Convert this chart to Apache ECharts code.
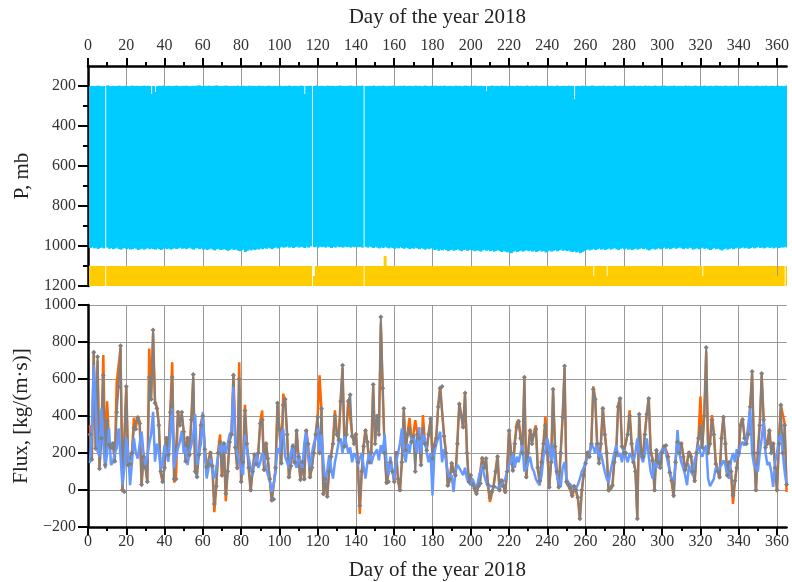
<!DOCTYPE html>
<html>
<head>
<meta charset="utf-8">
<script src="https://cdn.jsdelivr.net/npm/echarts@6/dist/echarts.min.js"></script>
<style>
  html, body { margin: 0; padding: 0; background: #fff; }
  #chart { width: 792px; height: 582px; }
</style>
</head>
<body>
<div id="chart"></div>
<script>
// day-of-year tick labels
var dayTicks = [0, 20, 40, 60, 80, 100, 120, 140, 160, 180, 200, 220, 240, 260, 280, 300, 320, 340, 360];
var pressureTicks = [200, 400, 600, 800, 1000, 1200];
var pressureMinorTicks = [300, 500, 700, 900, 1100];
var fluxTicks = [-200, 0, 200, 400, 600, 800, 1000];

// top panel: sounding pressure range per day (null = no data)
var soundTop = [
  200,199,201,200,198,200,202,200,null,197,200,201,199,200,200,198,201,200,199,200,
  201,200,198,200,199,200,201,200,198,200,199,200,240,200,230,201,199,200,198,200,
  200,199,201,200,200,198,200,201,199,200,198,200,201,200,199,200,198,197,200,201,
  199,200,198,201,200,199,197,200,201,200,199,198,200,201,200,199,200,198,201,200,
  199,200,201,198,200,199,200,201,198,200,199,201,200,198,200,201,199,200,200,198,
  201,200,199,200,198,201,200,199,200,201,198,200,240,200,200,199,null,200,198,201,
  200,199,200,201,198,200,199,200,201,200,198,199,200,201,200,199,198,200,201,200,
  199,200,198,null,200,201,199,200,198,200,201,199,200,198,200,201,199,200,198,200,
  201,200,199,200,198,201,200,199,200,201,198,200,199,201,200,198,200,201,199,200,
  198,200,201,199,200,198,201,200,199,200,201,198,200,199,201,200,198,200,201,199,
  200,198,201,200,199,201,200,225,200,200,198,201,199,200,201,198,200,199,201,200,
  199,200,201,198,200,199,201,200,198,200,201,199,200,198,201,200,199,200,201,198,
  200,199,201,200,198,201,200,199,200,201,198,200,199,265,200,200,201,198,200,199,
  201,200,198,199,201,200,199,200,198,201,200,199,201,200,198,200,201,199,200,198,
  200,201,199,200,198,201,200,199,200,201,198,200,199,201,200,198,200,201,199,200,
  198,200,201,199,200,198,201,200,199,200,201,198,200,199,201,200,198,200,201,199,
  200,198,201,200,199,201,200,198,200,199,201,200,198,200,201,199,200,198,201,200,
  199,200,201,198,200,199,201,200,198,200,201,199,200,198,201,200,199,200,201,198,
  200,199,201,200,198
];
var soundBottom = [
  1010,1005,1012,1008,1015,1010,1006,1012,null,1008,1014,1010,1016,1012,1008,1015,1018,1012,1010,1016,
  1012,1018,1015,1010,1014,1020,1016,1012,1018,1014,1010,1016,1012,1015,1018,1012,1016,1020,1014,1010,
  1016,1012,1018,1014,1010,1015,1012,1008,1014,1010,1016,1012,1008,1014,1018,1012,1010,1016,1012,1018,
  1014,1020,1016,1012,1018,1022,1016,1014,1020,1018,1015,1020,1024,1018,1014,1020,1016,1022,1026,1020,
  1018,1030,1024,1018,1022,1016,1020,1014,1018,1012,1016,1010,1014,1008,1012,1016,1010,1006,1012,1008,
  1004,1008,1006,1002,1008,1004,1010,1006,1002,1008,1004,1006,1010,1004,1008,1002,null,1006,1004,1008,
  1002,1006,1004,1008,1002,1006,1010,1004,1008,1002,1006,1004,1008,1002,1006,1004,1008,1003,1006,1002,
  1006,1004,1008,null,1004,1008,1002,1006,1010,1004,1008,1012,1006,1010,1004,1008,1012,1006,1010,1014,
  1008,1012,1006,1010,1014,1008,1012,1016,1010,1014,1008,1012,1016,1010,1014,1018,1012,1016,1010,1014,
  1020,1016,1024,1018,1022,1016,1020,1026,1020,1018,1024,1020,1016,1022,1026,1020,1018,1024,1020,1016,
  1022,1026,1020,1024,1028,1022,1018,1024,1020,1026,1022,1028,1024,1020,1026,1030,1024,1028,1032,1026,
  1036,1028,1024,1030,1026,1022,1028,1024,1020,1026,1022,1028,1024,1030,1026,1022,1028,1024,1032,1026,
  1022,1028,1024,1020,1026,1022,1018,1024,1020,1026,1022,1028,1030,1026,1032,1028,1036,1030,1026,1020,
  1016,1022,1018,1014,1020,1016,1012,1018,1014,1020,1016,1012,1018,1014,1010,1016,1020,1014,1010,1016,
  1012,1018,1014,1020,1016,1012,1018,1014,1010,1016,1012,1018,1022,1016,1012,1018,1014,1010,1016,1012,
  1008,1014,1010,1016,1012,1008,1014,1010,1006,1012,1016,1010,1014,1008,1012,1018,1014,1010,1016,1012,
  1008,1014,1010,1016,1020,1014,1010,1016,1012,1018,1022,1016,1012,1018,1014,1010,1016,1012,1008,1014,
  1010,1006,1012,1008,1014,1010,1006,1012,1008,1004,1010,1006,1012,1008,1004,1010,1006,1012,1008,1004,
  1010,1006,1008,1004,1008
];
// top panel: yellow band upper edge (lower edge is 1200)
var bandTop = [
  1100,1100,1100,1100,1100,1100,1100,1100,null,1100,1100,1100,1100,1100,1100,1100,1100,1100,1100,1100,
  1100,1100,1100,1100,1100,1100,1100,1100,1100,1100,1100,1100,1100,1100,1100,1100,1100,1100,1100,1100,
  1100,1100,1100,1100,1100,1100,1100,1100,1100,1100,1100,1100,1100,1100,1100,1100,1100,1100,1100,1100,
  1100,1100,1100,1100,1100,1100,1100,1100,1100,1100,1100,1100,1100,1100,1100,1100,1100,1100,1100,1100,
  1100,1100,1100,1100,1100,1100,1100,1100,1100,1100,1100,1100,1100,1100,1100,1100,1100,1100,1100,1100,
  1100,1100,1100,1100,1100,1100,1100,1100,1100,1100,1100,1100,1100,1100,1100,1100,null,1150,1100,1100,
  1100,1100,1100,1100,1100,1100,1100,1100,1100,1100,1100,1100,1100,1100,1100,1100,1100,1100,1100,1100,
  1100,1100,1100,null,1100,1100,1100,1100,1100,1100,1100,1100,1100,1100,1050,1100,1100,1100,1100,1100,
  1100,1100,1100,1100,1100,1100,1100,1100,1100,1100,1100,1100,1100,1100,1100,1100,1100,1100,1100,1100,
  1100,1100,1100,1100,1100,1100,1100,1100,1100,1100,1100,1100,1100,1100,1100,1100,1100,1100,1100,1100,
  1100,1100,1100,1100,1100,1100,1100,1100,1100,1100,1100,1100,1100,1100,1100,1100,1100,1100,1100,1100,
  1100,1100,1100,1100,1100,1100,1100,1100,1100,1100,1100,1100,1100,1100,1100,1100,1100,1100,1100,1100,
  1100,1100,1100,1100,1100,1100,1100,1100,1100,1100,1100,1100,1100,1100,1100,1100,1100,1100,1100,1100,
  1100,1100,1100,1150,1100,1100,1100,1100,1100,1100,1150,1100,1100,1100,1100,1100,1100,1100,1100,1100,
  1100,1100,1100,1100,1100,1100,1100,1100,1100,1100,1100,1100,1100,1100,1100,1100,1100,1100,1100,1100,
  1100,1100,1100,1100,1100,1100,1100,1100,1100,1100,1100,1100,1100,1100,1100,1100,1100,1100,1100,1100,
  1150,1100,1100,1100,1100,1100,1100,1100,1100,1100,1100,1100,1100,1100,1100,1100,1100,1100,1100,1100,
  1100,1100,1100,1100,1100,1100,1100,1100,1100,1100,1100,1100,1100,1100,1100,1100,1100,1100,1100,1150,
  1100,1100,1100,null,1100
];
var bandBase = 1200;

// bottom panel: daily flux, kg/(m·s)
var fluxOrange = [
  350,160,740,230,700,120,300,730,130,480, 250,220,260,150,580,590,770,-10,-20,560,
  140,130,210,390,340,400,370,20,190,130, 40,765,500,850,480,450,360,90,40,130,
  290,180,430,690,40,70,430,360,410,320, 160,290,180,390,610,90,80,200,360,410,
  230,120,130,210,120,-120,10,210,300,70, 240,-60,110,270,310,630,240,110,690,40,
  160,460,260,110,-10,110,200,130,210,370, 430,100,260,160,50,-60,-55,110,460,340,
  150,520,480,310,60,140,240,140,330,170, 50,160,50,330,240,60,130,210,310,400,
  620,420,-30,50,-40,110,190,260,430,310, 280,490,660,240,310,490,500,300,260,310,
  140,-130,90,240,330,250,160,210,560,260, 390,310,900,540,210,30,40,160,110,40,
  210,50,-10,160,430,220,310,390,270,300, 377,310,290,140,405,260,220,310,380,180,
  250,290,460,560,570,300,210,20,50,150, 110,70,260,470,410,330,520,210,40,70,
  40,0,-25,30,30,180,130,160,20,-65, -20,30,110,190,-10,60,30,-20,110,330,
  210,100,260,360,380,290,210,600,60,210, 330,260,310,350,110,40,160,260,395,210,
  10,160,540,240,90,10,210,400,660,40, 20,0,-40,10,-10,-50,-160,-10,90,150,
  210,190,260,560,500,260,150,260,450,310, 210,-10,0,20,160,210,460,500,240,210,
  210,310,430,260,160,110,-150,400,210,190, 310,420,500,210,170,-10,220,160,130,210,
  240,250,190,90,40,-40,160,270,210,260, 190,100,150,210,190,110,40,210,290,505,
  240,410,750,210,260,405,310,150,110,60, 290,400,260,70,140,90,-75,40,130,210,
  360,390,290,260,310,460,630,210,-10,210, 360,620,390,240,260,330,210,260,130,-10,
  260,460,460,360,-10
];
var fluxGray = [
  300,165,745,225,720,115,280,620,135,375, 245,230,250,155,420,560,780,0,-10,560,
  135,140,200,335,330,390,360,30,180,120, 45,610,490,865,470,440,350,100,45,120,
  280,190,420,610,60,60,420,350,420,315, 155,280,190,380,625,100,70,190,350,400,
  220,125,140,200,130,-75,20,200,260,80, 250,-20,100,260,300,620,230,120,600,45,
  150,430,250,120,0,100,190,140,200,360, 380,110,250,170,60,-55,-50,120,470,330,
  145,460,490,300,70,130,235,150,320,180, 55,150,60,320,250,70,120,200,300,395,
  200,440,-20,60,-35,100,180,250,400,300, 270,480,675,235,300,480,515,290,250,300,
  150,-85,100,235,320,260,150,200,570,250, 400,300,935,550,200,40,45,150,100,45,
  200,60,0,150,440,215,300,330,260,290, 100,300,280,135,330,250,215,300,385,170,
  240,280,450,550,560,290,200,25,60,145, 100,80,250,465,400,340,525,200,45,80,
  30,10,-20,20,35,170,120,170,30,-40, -10,20,100,180,0,50,20,-10,100,320,
  200,105,250,340,370,280,200,610,70,200, 320,250,300,330,120,50,150,250,350,200,
  15,150,545,235,100,15,200,395,670,45, 30,10,-30,20,0,-40,-155,0,80,145,
  200,180,250,545,490,250,145,250,440,300, 200,0,10,25,150,200,450,495,235,200,
  200,300,400,250,150,100,-155,410,200,180, 300,410,495,200,160,0,215,150,120,200,
  235,240,180,95,50,-30,150,260,200,250, 180,110,140,200,180,100,50,200,280,340,
  230,400,770,200,250,380,300,140,100,70, 280,395,250,80,150,100,-30,50,120,200,
  350,380,280,250,300,450,640,200,0,200, 350,630,380,230,250,320,200,250,120,0,
  250,460,200,350,30
];
var fluxBlue = [
  145,330,675,450,210,180,440,250,117,200, 333,135,150,200,225,333,180,26,117,280,
  200,26,150,280,200,170,250,315,200,135, 180,250,300,423,153,250,207,108,150,243,
  200,153,300,440,117,180,225,260,320,200, 230,135,200,243,300,410,135,200,250,423,
  200,62,120,170,100,62,120,180,243,200, 261,200,250,300,320,558,243,200,153,120,
  80,300,225,170,120,80,150,189,120,150, 200,180,120,80,50,-10,30,100,225,200,
  300,330,180,150,120,200,250,150,120,200, 150,120,250,320,180,120,200,250,280,333,
  200,300,150,44,100,189,120,62,150,200, 261,279,200,290,250,200,230,150,200,180,
  130,170,200,130,62,150,200,140,180,200, 220,160,243,200,300,150,80,180,100,60,
  150,200,250,333,200,150,250,200,280,300, 250,200,340,200,300,280,200,150,200,-30,
  200,250,280,315,150,220,160,100,62,80, -10,100,135,120,100,80,120,60,40,26,
  60,30,8,60,100,135,80,44,20,10, 20,30,15,20,8,30,40,60,100,135,
  150,200,120,180,150,200,243,100,120,150, 180,120,100,60,40,26,80,180,220,279,
  225,150,252,150,80,40,17,120,150,62, 40,30,20,15,8,30,60,100,120,150,
  150,200,250,230,200,261,180,200,150,100, 62,40,100,150,200,243,180,200,150,220,
  180,150,200,180,150,200,279,200,180,150, 200,279,180,100,62,150,120,150,200,220,
  243,200,150,100,60,44,150,324,200,150, 120,80,26,135,100,80,160,200,243,200,
  180,220,240,62,20,30,60,120,100,120, 135,160,135,80,62,160,200,150,220,180,
  240,260,240,279,350,441,200,135,120,100, 200,280,369,200,135,150,100,17,150,200,
  279,300,200,100,26
];

var FONT = '"Liberation Serif", "Times New Roman", serif';

function dayPairs(values) {
  return values.map(function (v, i) { return [i + 1, v]; });
}

function rangeTriples(tops, bottoms) {
  var out = [];
  tops.forEach(function (t, i) {
    var b = typeof bottoms === 'number' ? bottoms : bottoms[i];
    if (t !== null && b !== null) out.push([i + 1, t, b]);
  });
  return out;
}

function dayBar(fill) {
  return function (params, api) {
    var p0 = api.coord([api.value(0) - 0.5, api.value(1)]);
    var p1 = api.coord([api.value(0) + 0.5, api.value(2)]);
    return {
      type: 'rect',
      shape: { x: p0[0], y: p0[1], width: p1[0] - p0[0] + 1, height: p1[1] - p0[1] },
      style: { fill: fill }
    };
  };
}

function plainNumber(v) {
  return String(v).replace('-', '\u2212');
}

function dayAxis(gridIndex, position, margin, nameGap) {
  return {
    gridIndex: gridIndex,
    type: 'value',
    position: position,
    min: 0,
    max: 365,
    interval: 20,
    name: 'Day of the year 2018',
    nameLocation: 'middle',
    nameGap: nameGap,
    nameTextStyle: { fontFamily: FONT, fontSize: 21, color: '#222' },
    axisLine: { show: true, onZero: false, lineStyle: { color: '#000', width: 2.5 } },
    axisTick: { show: true, length: 8, customValues: dayTicks, lineStyle: { color: '#000', width: 2 } },
    minorTick: { show: true, splitNumber: 2, length: 4, lineStyle: { color: '#000', width: 2 } },
    axisLabel: { customValues: dayTicks, fontFamily: FONT, fontSize: 16, color: '#333', margin: margin, formatter: plainNumber },
    splitLine: { show: true, lineStyle: { color: '#999', width: 1 } }
  };
}

var chart = echarts.init(document.getElementById('chart'));
chart.setOption({
  animation: false,
  backgroundColor: '#fff',
  grid: [
    { left: 88, right: 4, top: 66, height: 220 },
    { left: 88, right: 4, top: 305, height: 222 }
  ],
  xAxis: [
    dayAxis(0, 'top', 12, 38),
    dayAxis(1, 'bottom', 7, 33)
  ],
  yAxis: [
    {
      gridIndex: 0,
      type: 'value',
      position: 'left',
      inverse: true,
      min: 100,
      max: 1200,
      interval: 100,
      name: 'P, mb',
      nameLocation: 'middle',
      nameGap: 41,
      nameTextStyle: { fontFamily: FONT, fontSize: 21, color: '#222' },
      axisLine: { show: true, lineStyle: { color: '#000', width: 2.5 } },
      axisTick: { show: true, length: 10, customValues: pressureTicks, lineStyle: { color: '#000', width: 2 } },
      axisLabel: { customValues: pressureTicks, fontFamily: FONT, fontSize: 16, color: '#333', margin: 12, formatter: plainNumber },
      splitLine: { show: false }
    },
    {
      gridIndex: 0,
      type: 'value',
      position: 'left',
      inverse: true,
      min: 100,
      max: 1200,
      interval: 100,
      axisLine: { show: false },
      axisTick: { show: true, length: 5, customValues: pressureMinorTicks, lineStyle: { color: '#000', width: 2 } },
      axisLabel: { show: false },
      splitLine: { show: false }
    },
    {
      gridIndex: 1,
      type: 'value',
      position: 'left',
      min: -200,
      max: 1000,
      interval: 200,
      name: 'Flux, [kg/(m·s)]',
      nameLocation: 'middle',
      nameGap: 40,
      nameTextStyle: { fontFamily: FONT, fontSize: 21, color: '#222' },
      axisLine: { show: true, onZero: false, lineStyle: { color: '#000', width: 2.5 } },
      axisTick: { show: true, length: 10, lineStyle: { color: '#000', width: 2 } },
      axisLabel: { fontFamily: FONT, fontSize: 16, color: '#333', margin: 12, formatter: plainNumber },
      splitLine: { show: true, lineStyle: { color: '#999', width: 1 } }
    }
  ],
  series: [
    {
      type: 'custom',
      xAxisIndex: 0,
      yAxisIndex: 0,
      clip: true,
      renderItem: dayBar('#00ccff'),
      data: rangeTriples(soundTop, soundBottom)
    },
    {
      type: 'custom',
      xAxisIndex: 0,
      yAxisIndex: 0,
      clip: true,
      renderItem: dayBar('#ffcc00'),
      data: rangeTriples(bandTop, bandBase)
    },
    {
      type: 'line',
      xAxisIndex: 1,
      yAxisIndex: 2,
      showSymbol: false,
      lineStyle: { color: '#ff6600', width: 2.5 },
      data: dayPairs(fluxOrange)
    },
    {
      type: 'line',
      xAxisIndex: 1,
      yAxisIndex: 2,
      symbol: 'diamond',
      symbolSize: 5,
      itemStyle: { color: '#808080' },
      lineStyle: { color: '#808080', width: 2 },
      data: dayPairs(fluxGray)
    },
    {
      type: 'line',
      xAxisIndex: 1,
      yAxisIndex: 2,
      showSymbol: false,
      lineStyle: { color: '#6699ff', width: 2.5 },
      data: dayPairs(fluxBlue)
    }
  ]
});
</script>
</body>
</html>
